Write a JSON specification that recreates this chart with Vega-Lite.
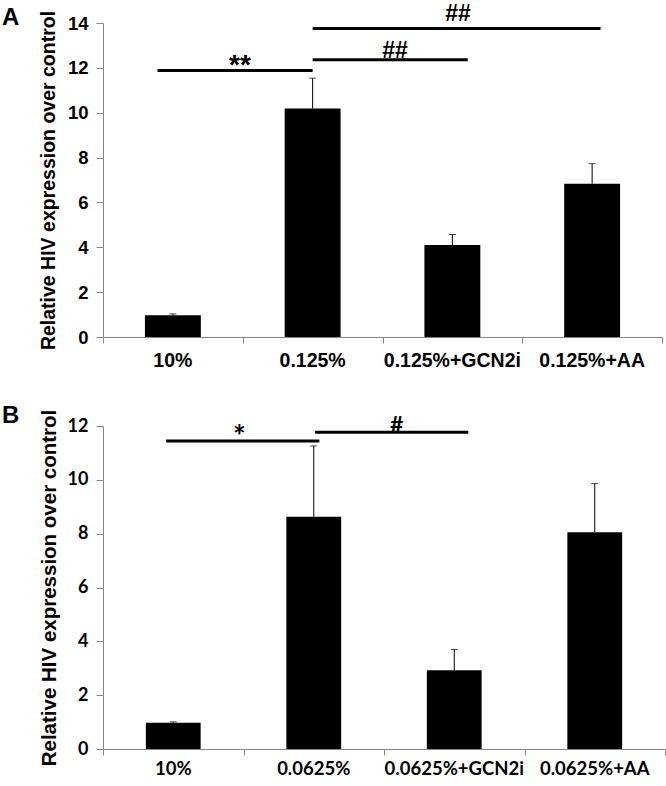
{
  "$schema": "https://vega.github.io/schema/vega-lite/v6.json",
  "background": "white",
  "padding": {"left": 2, "top": 2, "right": 3, "bottom": 0},
  "config": {
    "view": {"stroke": null},
    "axis": {"domainColor": "#868686", "tickColor": "#868686", "labelColor": "black", "titleColor": "black", "grid": false}
  },
  "spacing": 34,
  "vconcat": [
    {
      "title": {"text": "A", "anchor": "start", "frame": "group", "dx": -101, "dy": 3, "offset": -24, "font": "Liberation Sans", "fontSize": 24, "fontWeight": "bold"},
      "width": 559,
      "height": 314,
      "layer": [
        {
          "data": {"values": [
            {"group": "10%", "mean": 0.97, "upper": 1.03},
            {"group": "0.125%", "mean": 10.19, "upper": 11.54},
            {"group": "0.125%+GCN2i", "mean": 4.10, "upper": 4.57},
            {"group": "0.125%+AA", "mean": 6.83, "upper": 7.73}
          ]},
          "encoding": {
            "x": {"field": "group", "type": "nominal", "sort": null, "scale": {"paddingInner": 0, "paddingOuter": 0},
              "axis": {"title": null, "domain": false, "ticks": false, "labelAngle": 0, "labelPadding": 14, "labelFont": "Liberation Sans", "labelFontSize": 19.5, "labelFontWeight": "bold"}}
          },
          "layer": [
            {
              "mark": {"type": "bar", "color": "black", "width": {"band": 0.4}},
              "encoding": {
                "y": {"field": "mean", "type": "quantitative", "title": "Relative HIV expression over control", "scale": {"domain": [0, 14], "nice": false},
                  "axis": {"values": [0, 2, 4, 6, 8, 10, 12, 14], "tickSize": 7, "labelPadding": 8, "titlePadding": 9, "labelFont": "Liberation Sans", "labelFontSize": 18.5, "labelFontWeight": "bold", "titleFont": "Liberation Sans", "titleFontSize": 19.5, "titleFontWeight": "bold"}}
              }
            },
            {
              "mark": {"type": "rule", "color": "black", "strokeWidth": 1},
              "encoding": {"y": {"field": "mean", "type": "quantitative", "title": "Relative HIV expression over control"}, "y2": {"field": "upper"}}
            },
            {
              "mark": {"type": "tick", "color": "black", "size": 7, "thickness": 1, "orient": "horizontal"},
              "encoding": {"y": {"field": "upper", "type": "quantitative", "title": "Relative HIV expression over control"}}
            }
          ]
        },
        {
          "layer": [
            {
              "data": {"values": [
                {"from": 0.39, "to": 1.50, "level": 11.88},
                {"from": 1.50, "to": 2.61, "level": 12.36},
                {"from": 1.50, "to": 3.56, "level": 13.75}
              ]},
              "mark": {"type": "rule", "color": "black", "strokeWidth": 3},
              "encoding": {
                "x": {"field": "from", "type": "quantitative", "scale": {"domain": [0, 4], "nice": false},
                  "axis": {"orient": "bottom", "values": [0, 1, 2, 3, 4], "labels": false, "title": null, "tickSize": 6}},
                "x2": {"field": "to"},
                "y": {"field": "level", "type": "quantitative", "title": "Relative HIV expression over control"}
              }
            },
            {
              "data": {"values": [
                {"label": "##", "pos": 2.09, "level": 12.74},
                {"label": "##", "pos": 2.54, "level": 14.41}
              ]},
              "mark": {"type": "text", "color": "black", "font": "Liberation Sans", "fontSize": 23, "fontWeight": "bold", "baseline": "middle", "align": "center"},
              "encoding": {
                "x": {"field": "pos", "type": "quantitative"},
                "y": {"field": "level", "type": "quantitative", "title": "Relative HIV expression over control"},
                "text": {"field": "label"}
              }
            },
            {
              "data": {"values": [
                {"label": "**", "pos": 0.98, "level": 12.1}
              ]},
              "mark": {"type": "text", "color": "black", "font": "Liberation Sans", "fontSize": 28, "fontWeight": "bold", "baseline": "middle", "align": "center"},
              "encoding": {
                "x": {"field": "pos", "type": "quantitative"},
                "y": {"field": "level", "type": "quantitative", "title": "Relative HIV expression over control"},
                "text": {"field": "label"}
              }
            }
          ]
        }
      ],
      "resolve": {"scale": {"x": "independent"}}
    },
    {
      "title": {"text": "B", "anchor": "start", "frame": "group", "dx": -101, "offset": -19, "font": "Liberation Sans", "fontSize": 24, "fontWeight": "bold"},
      "width": 562,
      "height": 323,
      "layer": [
        {
          "data": {"values": [
            {"group": "10%", "mean": 0.975, "upper": 1.01},
            {"group": "0.0625%", "mean": 8.63, "upper": 11.26},
            {"group": "0.0625%+GCN2i", "mean": 2.93, "upper": 3.70},
            {"group": "0.0625%+AA", "mean": 8.05, "upper": 9.86}
          ]},
          "encoding": {
            "x": {"field": "group", "type": "nominal", "sort": null, "scale": {"paddingInner": 0, "paddingOuter": 0},
              "axis": {"title": null, "domain": false, "ticks": false, "labelAngle": 0, "labelPadding": 10, "labelFont": "Lato", "labelFontSize": 18.5, "labelFontWeight": "bold"}}
          },
          "layer": [
            {
              "mark": {"type": "bar", "color": "black", "width": {"band": 0.39}},
              "encoding": {
                "y": {"field": "mean", "type": "quantitative", "title": "Relative HIV expression over control", "scale": {"domain": [0, 12], "nice": false},
                  "axis": {"values": [0, 2, 4, 6, 8, 10, 12], "tickSize": 7, "labelPadding": 8, "titlePadding": 8, "labelFont": "Lato", "labelFontSize": 18, "labelFontWeight": "bold", "titleFont": "Liberation Sans", "titleFontSize": 20.5, "titleFontWeight": "bold"}}
              }
            },
            {
              "mark": {"type": "rule", "color": "black", "strokeWidth": 1},
              "encoding": {"y": {"field": "mean", "type": "quantitative", "title": "Relative HIV expression over control"}, "y2": {"field": "upper"}}
            },
            {
              "mark": {"type": "tick", "color": "black", "size": 7, "thickness": 1, "orient": "horizontal"},
              "encoding": {"y": {"field": "upper", "type": "quantitative", "title": "Relative HIV expression over control"}}
            }
          ]
        },
        {
          "layer": [
            {
              "data": {"values": [
                {"from": 0.45, "to": 1.54, "level": 11.44},
                {"from": 1.51, "to": 2.60, "level": 11.77}
              ]},
              "mark": {"type": "rule", "color": "black", "strokeWidth": 3},
              "encoding": {
                "x": {"field": "from", "type": "quantitative", "scale": {"domain": [0, 4], "nice": false},
                  "axis": {"orient": "bottom", "values": [0, 1, 2, 3, 4], "labels": false, "title": null, "tickSize": 6}},
                "x2": {"field": "to"},
                "y": {"field": "level", "type": "quantitative", "title": "Relative HIV expression over control"}
              }
            },
            {
              "data": {"values": [
                {"label": "#", "pos": 2.09, "level": 12.0}
              ]},
              "mark": {"type": "text", "color": "black", "font": "Lato", "fontSize": 23, "fontWeight": "bold", "baseline": "middle", "align": "center"},
              "encoding": {
                "x": {"field": "pos", "type": "quantitative"},
                "y": {"field": "level", "type": "quantitative", "title": "Relative HIV expression over control"},
                "text": {"field": "label"}
              }
            },
            {
              "data": {"values": [
                {"label": "*", "pos": 0.97, "level": 11.55}
              ]},
              "mark": {"type": "text", "color": "black", "font": "Lato", "fontSize": 30, "fontWeight": "bold", "baseline": "middle", "align": "center"},
              "encoding": {
                "x": {"field": "pos", "type": "quantitative"},
                "y": {"field": "level", "type": "quantitative", "title": "Relative HIV expression over control"},
                "text": {"field": "label"}
              }
            }
          ]
        }
      ],
      "resolve": {"scale": {"x": "independent"}}
    }
  ]
}
